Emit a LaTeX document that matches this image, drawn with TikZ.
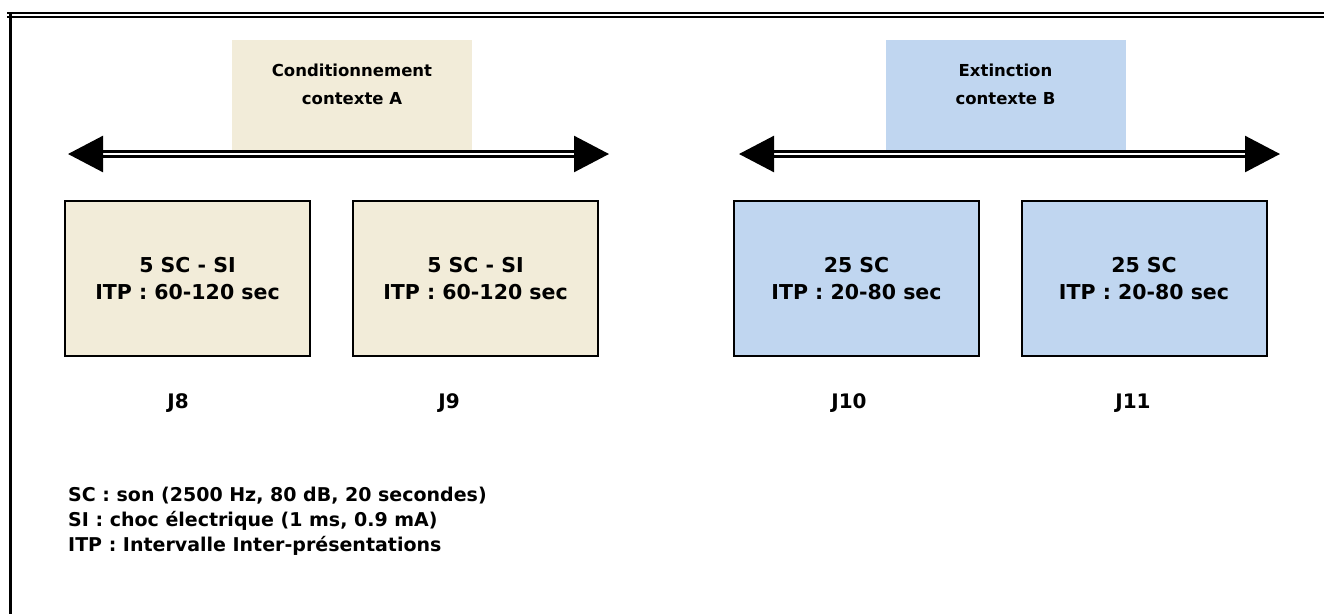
\documentclass[tikz,border=0pt]{standalone}
\usepackage{fontspec}
\setmainfont{DejaVu Sans}
\usepackage{xcolor}
\usepackage{tikz}
\usetikzlibrary{arrows.meta, positioning}
\definecolor{beige}{RGB}{242,236,217}
\definecolor{bleuclair}{RGB}{192,214,240}

\begin{document}
\begin{tikzpicture}[x=1pt, y=-1pt,
  ctx/.style={rectangle, minimum width=240pt, minimum height=110pt, inner sep=0pt},
  ctxtext/.style={align=center, inner sep=0pt, font=\bfseries\fontsize{16.5}{28}\selectfont},
  session/.style={rectangle, draw, line width=2pt, minimum width=245pt, minimum height=155pt, align=center, font=\bfseries\fontsize{20.5}{27}\selectfont},
  day/.style={font=\bfseries\fontsize{20}{24}\selectfont},
  dblarrow/.style={double, double distance=2.5pt, line width=2.5pt, {Triangle[length=35pt,width=36pt]}-{Triangle[length=35pt,width=36pt]}}
]
\useasboundingbox (0,0) rectangle (1324,614);

\draw[line width=2.5pt] (7,13) -- (1324,13);
\draw[line width=2pt] (7,17) -- (1324,17);
\draw[line width=3.5pt] (10.5,13) -- (10.5,614);

\node[ctx, fill=beige] (condA) at (352,95) {};
\node[ctxtext] (condAtxt) at (352,84) {Conditionnement\\contexte A};
\node[ctx, fill=bleuclair] (extB) at (1005.5,95) {};
\node[ctxtext] (extBtxt) at (1005.5,84) {Extinction\\contexte B};

\coordinate (a1) at (68,154);
\coordinate (a2) at (609,154);
\coordinate (b1) at (739,154);
\coordinate (b2) at (1280,154);
\draw[dblarrow] (a1) -- (a2);
\draw[dblarrow] (b1) -- (b2);

\node[session, fill=beige] (j8) at (187.5,278.5) {5 SC - SI\\ITP : 60-120 sec};
\node[session, fill=beige] (j9) at (475.5,278.5) {5 SC - SI\\ITP : 60-120 sec};
\node[session, fill=bleuclair] (j10) at (856.5,278.5) {25 SC\\ITP : 20-80 sec};
\node[session, fill=bleuclair] (j11) at (1144,278.5) {25 SC\\ITP : 20-80 sec};

\node[day] (d8) at (178,403) {J8};
\node[day] (d9) at (449,403) {J9};
\node[day] (d10) at (849,403) {J10};
\node[day] (d11) at (1133,403) {J11};

\node[anchor=west, align=left, inner sep=0pt, font=\bfseries\fontsize{19}{25}\selectfont] (legende) at (68,521)
  {SC : son (2500 Hz, 80 dB, 20 secondes)\\SI : choc électrique (1 ms, 0.9 mA)\\ITP : Intervalle Inter-présentations};
\end{tikzpicture}
\end{document}
